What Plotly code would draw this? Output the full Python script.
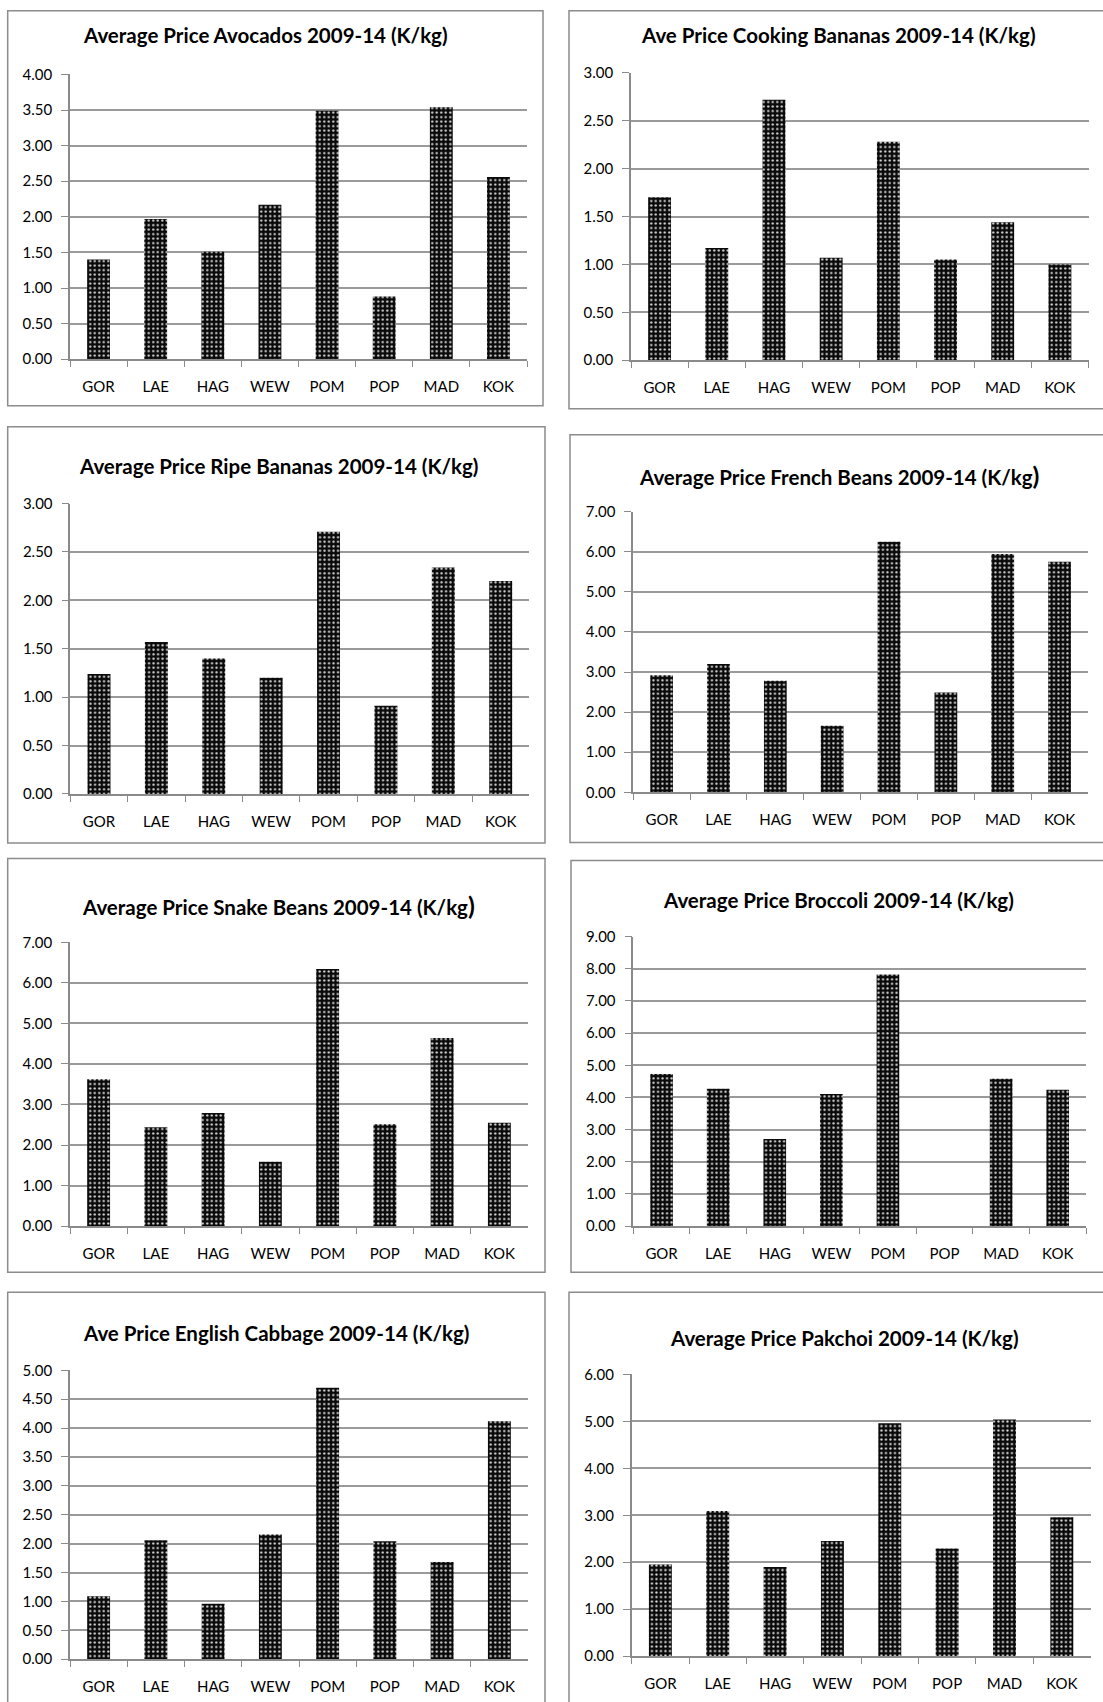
import plotly.graph_objects as go

W, H = 1103, 1702
# vertical placement: page y = Y_SCALE * figure y + Y_SHIFT
Y_SCALE, Y_SHIFT = 0.99, 8.9

markets = ["GOR", "LAE", "HAG", "WEW", "POM", "POP", "MAD", "KOK"]

avocados = [1.40, 1.97, 1.51, 2.17, 3.49, 0.88, 3.54, 2.56]
cooking_bananas = [1.70, 1.17, 2.72, 1.07, 2.28, 1.05, 1.44, 1.00]
ripe_bananas = [1.24, 1.57, 1.40, 1.20, 2.71, 0.91, 2.34, 2.20]
french_beans = [2.92, 3.20, 2.78, 1.66, 6.25, 2.49, 5.94, 5.75]
snake_beans = [3.62, 2.44, 2.79, 1.59, 6.34, 2.51, 4.64, 2.55]
broccoli = [4.73, 4.27, 2.71, 4.11, 7.82, None, 4.58, 4.24]
english_cabbage = [1.09, 2.06, 0.96, 2.16, 4.70, 2.04, 1.68, 4.12]
pakchoi = [1.95, 3.09, 1.90, 2.45, 4.96, 2.29, 5.04, 2.96]

big_paren = "<span style='font-size:25px'>)</span>"
titles = [
    "Average Price Avocados 2009-14 (K/kg)",
    "Ave Price Cooking Bananas 2009-14 (K/kg)",
    "Average Price Ripe Bananas 2009-14 (K/kg)",
    "Average Price French Beans 2009-14 (K/kg" + big_paren,
    "Average Price Snake Beans 2009-14 (K/kg" + big_paren,
    "Average Price Broccoli 2009-14 (K/kg)",
    "Ave Price English Cabbage 2009-14 (K/kg)",
    "Average Price Pakchoi 2009-14 (K/kg)",
]
series = [avocados, cooking_bananas, ripe_bananas, french_beans,
          snake_beans, broccoli, english_cabbage, pakchoi]
y_max = [4, 3, 3, 7, 7, 9, 5, 6]
y_step = [0.5, 0.5, 0.5, 1, 1, 1, 0.5, 1]

# panel geometry in page pixels: frame box, plot box, title centre
frames = [
    (7.7, 6, 543, 405), (569, 6, 1110, 408),
    (7.7, 426, 545, 842.5), (570, 434, 1110, 842),
    (7.7, 858, 545, 1272), (571, 860, 1110, 1272),
    (7.7, 1292, 545, 1730), (569, 1292, 1110, 1730),
]
plots = [
    (70, 527, 73.3, 358.3), (631, 1088.5, 71.7, 359.3),
    (70.3, 529.4, 502.7, 793.3), (633.2, 1088, 510.7, 791.7),
    (70, 528, 941.7, 1225.7), (633.3, 1086, 936, 1225.7),
    (70, 528, 1370, 1659), (631.7, 1090.5, 1374, 1656),
]
title_pos = [
    (265, 34), (838, 34), (278, 465), (838.6, 474),
    (278, 904), (838.6, 899), (276, 1333), (844, 1338),
]


def py(y):
    """page y (pixels from top) -> paper fraction"""
    fy = (y - Y_SHIFT) / Y_SCALE
    fy = min(max(fy, 0.75), H + 20)
    return 1 - fy / H


FONT = "Lato"
GRID = "#9a9a9a"
AXIS = "#8a8a8a"

fig = go.Figure()
layout = dict(
    width=W, height=H, margin=dict(l=0, r=0, t=0, b=0),
    paper_bgcolor="white", plot_bgcolor="white", showlegend=False,
    font=dict(family=FONT, color="black", size=15),
    shapes=[], annotations=[],
)

for i in range(8):
    n = "" if i == 0 else str(i + 1)
    xl, xr, yt, yb = plots[i]
    fig.add_trace(go.Bar(
        x=markets, y=series[i], width=0.4,
        xaxis="x" + n, yaxis="y" + n,
        marker=dict(
            color="black",
            line=dict(width=0),
            pattern=dict(shape=".", bgcolor="#0a0a0a", fgcolor="#d9d9d9",
                         size=4.5, solidity=0.2, fillmode="replace"),
        ),
        hoverinfo="skip",
    ))
    layout["xaxis" + n] = dict(
        domain=[xl / W, xr / W], anchor="y" + n,
        type="category", range=[-0.5, 7.5], tickson="boundaries",
        showgrid=False, showline=True, linecolor=AXIS, linewidth=1.5,
        ticks="outside", ticklen=6, tickcolor=AXIS, tickwidth=1.2,
        ticklabelstandoff=13, tickfont=dict(size=15, family=FONT),
        fixedrange=True, zeroline=False,
    )
    layout["yaxis" + n] = dict(
        domain=[py(yb), py(yt)], anchor="x" + n,
        range=[0, y_max[i] * 1.0002], dtick=y_step[i], tick0=0,
        tickformat=".2f", showgrid=True, gridcolor=GRID, gridwidth=1.5,
        showline=True, linecolor=AXIS, linewidth=1.5,
        ticks="outside", ticklen=7, tickcolor=AXIS, tickwidth=1.2,
        ticklabelstandoff=6, tickfont=dict(size=15, family=FONT),
        zeroline=False, fixedrange=True,
    )
    fx0, fy0, fx1, fy1 = frames[i]
    layout["shapes"].append(dict(
        type="rect", xref="paper", yref="paper",
        x0=fx0 / W, x1=fx1 / W, y0=py(fy1), y1=py(fy0),
        line=dict(color="#8c8c8c", width=1.5), fillcolor="rgba(0,0,0,0)",
        layer="below",
    ))
    cx, cy = title_pos[i]
    layout["annotations"].append(dict(
        text="<b>" + titles[i] + "</b>", xref="paper", yref="paper",
        x=cx / W, y=py(cy), xanchor="center", yanchor="middle",
        showarrow=False, font=dict(family=FONT, size=20.5, color="black"),
    ))

fig.update_layout(**layout)
fig.write_html("out.html")
